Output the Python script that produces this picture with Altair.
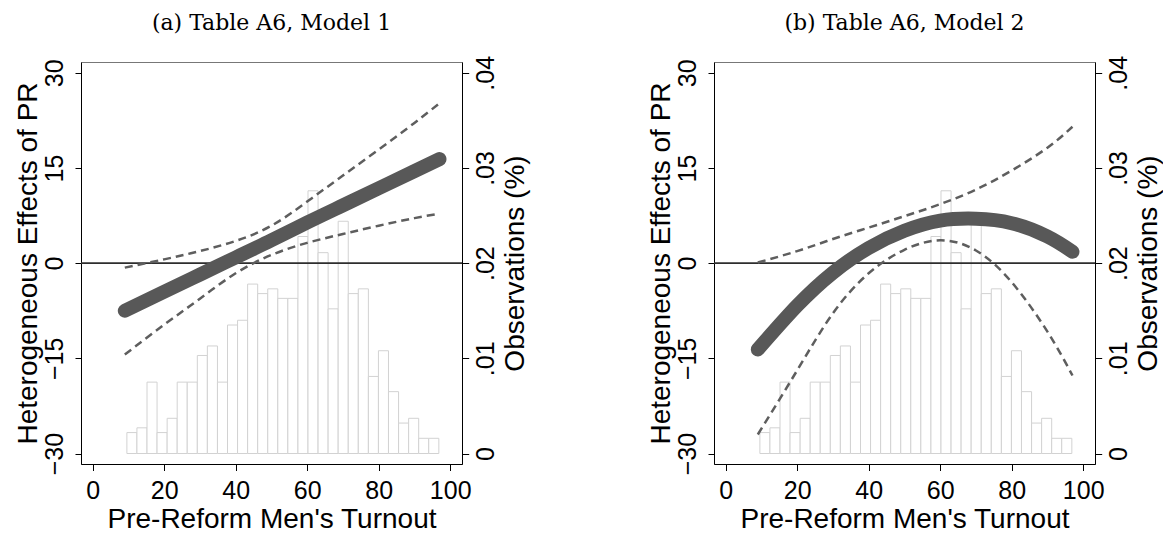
import altair as alt
import pandas as pd

# ---- data ----
bin_edges = [9.58, 12.39, 15.21, 18.02, 20.84, 23.65, 26.46, 29.28, 32.09, 34.91,
             37.72, 40.53, 43.35, 46.16, 48.98, 51.79, 54.60, 57.42, 60.23, 63.05,
             65.86, 68.67, 71.49, 74.30, 77.12, 79.93, 82.74, 85.56, 88.37, 91.19,
             94.00, 96.82]
obs_share = [0.0022, 0.0027, 0.0075, 0.0022, 0.0037, 0.0075, 0.0075, 0.0103, 0.0113, 0.0075,
             0.0135, 0.0140, 0.0178, 0.0168, 0.0173, 0.0163, 0.0163, 0.0228, 0.0276, 0.0211,
             0.0152, 0.0244, 0.0168, 0.0173, 0.0081, 0.0108, 0.0065, 0.0032, 0.0037, 0.0016,
             0.0016]

turnout = [9, 20, 30, 40, 50, 60, 70, 80, 90, 97]
m1_est = [-7.5, -4.5, -1.8, 0.9, 3.6, 6.4, 9.1, 11.8, 14.5, 16.4]
m1_hi = [-0.7, 0.6, 1.9, 3.5, 5.9, 9.7, 13.8, 17.9, 22.1, 25.2]
m1_lo = [-14.4, -9.7, -5.6, -1.6, 1.3, 3.2, 4.6, 5.9, 7.1, 7.8]
m2_est = [-13.6, -6.7, -1.5, 2.4, 5.1, 6.7, 7.0, 6.3, 4.2, 1.8]
m2_hi = [0.1, 1.9, 3.8, 5.6, 7.4, 9.3, 11.6, 14.6, 18.2, 21.5]
m2_lo = [-27.0, -16.9, -7.9, -1.6, 2.1, 3.6, 2.0, -3.0, -10.8, -17.7]

panel_titles = ["(a) Table A6, Model 1", "(b) Table A6, Model 2"]
x_ticks = [0, 20, 40, 60, 80, 100]
y_ticks = [-30, -15, 0, 15, 30]
r_ticks = [0, 0.01, 0.02, 0.03, 0.04]

# ---- layout / style ----
W, H = 381, 402
XDOM = [-3.25, 103.3]
YDOM = [-31.65, 31.7]
RDOM = [-0.0011, 0.04113]
SANS = "Liberation Sans"
LAB = 25
TIT = 28

x_axis = alt.Axis(values=x_ticks, title="Pre-Reform Men's Turnout", grid=False,
                  labelFlush=False, tickSize=6.5, labelPadding=27.5,
                  labelBaseline="alphabetic", labelFont=SANS, labelFontSize=LAB,
                  titleFont=SANS, titleFontSize=TIT, titleFontWeight="normal",
                  titleBaseline="alphabetic", titleX=W / 2, titleY=63.3, titleAlign="center",
                  domainColor="black", tickColor="black", labelColor="black", titleColor="black")

left_axis = alt.Axis(orient="left", values=y_ticks, title="Heterogeneous Effects of PR", grid=False,
                     format="d", labelFlush=False, labelAngle=270, labelAlign="center",
                     labelBaseline="alphabetic", tickSize=6, labelPadding=12.3,
                     labelFont=SANS, labelFontSize=LAB, titleFont=SANS, titleFontSize=TIT,
                     titleFontWeight="normal", titleAngle=270, titleAlign="center",
                     titleBaseline="alphabetic", titleX=-45, titleY=H / 2,
                     domainColor="black", tickColor="black", labelColor="black", titleColor="black")

right_axis = alt.Axis(orient="right", values=r_ticks, title="Observations (%)", grid=False,
                      labelExpr="datum.value == 0 ? '0' : '.0' + round(datum.value * 100)",
                      labelFlush=False, labelAngle=270, labelAlign="center",
                      labelBaseline="alphabetic", tickSize=6.7, labelPadding=24.6,
                      labelFont=SANS, labelFontSize=LAB, titleFont=SANS, titleFontSize=TIT,
                      titleFontWeight="normal", titleAngle=270, titleAlign="center",
                      titleBaseline="alphabetic", titleX=61.3, titleY=H / 2,
                      domainColor="black", tickColor="black", labelColor="black", titleColor="black")

xscale = alt.Scale(domain=XDOM, nice=False, zero=False)
yscale = alt.Scale(domain=YDOM, nice=False, zero=False)
rscale = alt.Scale(domain=RDOM, nice=False, zero=False)


def panel(title, est, lo, hi):
    hist_df = pd.DataFrame({"x0": bin_edges[:-1], "x1": bin_edges[1:],
                            "h": obs_share, "b": [0] * len(obs_share)})
    line_df = pd.DataFrame({"t": turnout, "est": est})
    ci_df = pd.DataFrame({"t": turnout * 2, "v": lo + hi,
                          "bound": ["lo"] * len(lo) + ["hi"] * len(hi)})
    zero_df = pd.DataFrame({"z": [0]})

    bars = alt.Chart(hist_df).mark_rect(fill="white", stroke="#d2d2d2", strokeWidth=1).encode(
        x=alt.X("x0:Q", scale=xscale, axis=x_axis),
        x2="x1",
        y=alt.Y("b:Q", scale=rscale, axis=right_axis),
        y2="h",
    )
    zero = alt.Chart(zero_df).mark_rule(color="#2e2e2e", strokeWidth=1.7).encode(
        y=alt.Y("z:Q", scale=yscale, axis=left_axis),
        x=alt.value(0), x2=alt.value(W),
    )
    ci = alt.Chart(ci_df).mark_line(color="#5e5e5e", strokeWidth=2.5, strokeDash=[8, 5],
                                    interpolate="natural").encode(
        x=alt.X("t:Q", scale=xscale, axis=x_axis),
        y=alt.Y("v:Q", scale=yscale, axis=left_axis),
        detail="bound:N",
    )
    thick = alt.Chart(line_df).mark_line(color="#585858", strokeWidth=14, strokeCap="round",
                                         interpolate="natural").encode(
        x=alt.X("t:Q", scale=xscale, axis=x_axis),
        y=alt.Y("est:Q", scale=yscale, axis=left_axis),
    )
    inner = alt.layer(zero, ci, thick)
    return alt.layer(bars, inner).resolve_scale(y="independent").properties(
        width=W, height=H,
        title=alt.TitleParams(title, font="DejaVu Serif", fontSize=22, fontWeight="normal",
                              anchor="middle", frame="group", baseline="alphabetic",
                              offset=3.5, color="black"),
    )


chart = alt.hconcat(
    panel(panel_titles[0], m1_est, m1_lo, m1_hi),
    panel(panel_titles[1], m2_est, m2_lo, m2_hi),
    spacing=116,
).properties(
    padding={"left": 13, "top": 11, "right": 0, "bottom": 0},
    background="white",
).configure_view(stroke="#777777", strokeWidth=1)

chart.save("out.html", embed_options={"renderer": "svg", "actions": False})
